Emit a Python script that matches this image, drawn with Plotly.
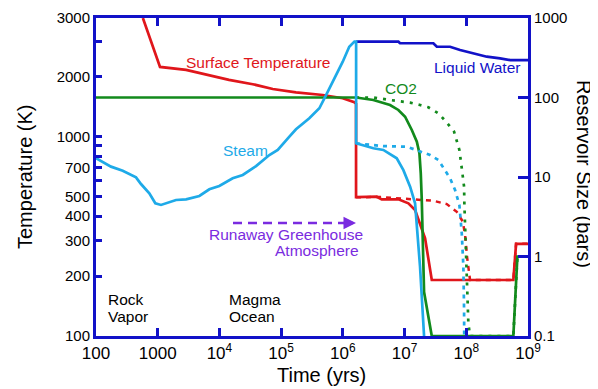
import plotly.graph_objects as go

# ---------------- data ----------------
# Surface temperature (K) vs time (yrs)
temp_t = [575, 1090, 2880, 6070, 14300, 34700, 73200, 174000, 472000, 995000,
          1.535e6, 1.636e6, 1.636e6, 3.54e6, 4.27e6, 7.94e6, 1.153e7, 1.48e7,
          1.90e7, 2.15e7, 2.76e7, 5.79e8, 6.41e8, 1e9]
temp_K = [3940, 2240, 2164, 2058, 1927, 1834, 1735, 1670, 1619, 1559,
          1489, 1462, 497, 500, 485, 485, 463, 429,
          347, 309, 191, 191, 290, 290]
# Surface temperature, alternative (dashed)
temp2_t = [1.636e6, 4.01e6, 2.93e7, 4.83e7, 7.02e7, 8.78e7, 9.57e7, 1.03e8,
           1.15e8, 5.79e8, 6.41e8, 1e9]
temp2_K = [497, 498, 477, 459, 420, 375, 321, 249, 191, 191, 290, 290]

# Steam reservoir (bars)
steam_t = [100, 175, 271, 445, 536, 731, 915, 1130, 1980, 2880, 4730, 6860,
           9950, 16400, 23900, 39200, 64400, 88100, 136000, 174000, 286000,
           416000, 534000, 776000, 996000, 1.27e6, 1.54e6, 1.64e6, 1.64e6,
           3.12e6, 4.53e6, 7.47e6, 9.57e6, 1.23e7, 1.48e7, 1.78e7, 2.07e7]
steam_P = [17.2, 13.5, 12.0, 9.9, 8.16, 6.24, 4.67, 4.45, 5.14, 5.24, 5.77,
           7.00, 7.71, 9.63, 10.6, 13.7, 18.9, 21.9, 32.2, 39.8, 54.7, 73.1,
           107, 192, 282, 435, 504, 504, 26.5, 23.0, 21.9, 17.2, 12.2, 7.55,
           4.67, 0.745, 0.1]
# Steam, alternative (dashed)
steam2_t = [1.64e6, 4.48e6, 1.09e7, 1.78e7, 2.59e7, 3.53e7, 4.53e7, 5.46e7,
            6.58e7, 7.17e7, 7.73e7, 8.45e7, 8.97e7, 9.21e7, 9.25e7]
steam2_P = [26.5, 24.5, 24.0, 20.8, 18.9, 16.4, 12.2, 9.63, 6.85, 5.40, 4.45,
            1.96, 0.745, 0.212, 0.1]

# CO2 reservoir (bars)
co2_t = [100, 1.64e6, 3.12e6, 4.53e6, 5.82e6, 7.93e6, 1.02e7, 1.31e7, 1.58e7,
         1.74e7, 1.83e7, 1.90e7, 1.97e7, 2.07e7, 2.76e7, 5.79e8, 6.73e8, 1e9]
co2_P = [100, 100, 93.0, 84.6, 80.5, 69.7, 57.3, 39.0, 27.8, 19.9, 11.1, 5.14,
         1.96, 0.357, 0.1, 0.1, 1.0, 1.0]
# CO2, alternative (dotted)
co22_t = [1.64e6, 3.12e6, 5.82e6, 1.23e7, 1.78e7, 2.43e7, 3.53e7, 4.71e7,
          6.34e7, 7.73e7, 8.45e7, 9.21e7, 9.31e7, 9.93e7, 1.08e8, 1.15e8,
          5.79e8, 6.73e8]
co22_P = [100, 100, 93.0, 86.1, 80.5, 75.3, 63.3, 49.6, 37.2, 21.9, 12.9,
          7.55, 4.57, 0.745, 0.145, 0.1, 0.1, 1.0]

# Liquid water reservoir (bars)
water_t = [1.64e6, 7.94e6, 8.45e6, 2.93e7, 3.33e7, 5.46e7, 7.93e7, 1.30e8,
           2.15e8, 3.53e8, 5.13e8, 1e9]
water_P = [504, 504, 481, 481, 435, 435, 396, 359, 326, 311, 296, 296]

# ticks
x_tickvals = [1e2, 1e3, 1e4, 1e5, 1e6, 1e7, 1e8, 1e9]
x_ticktext = ["100", "1000", "10<sup>4</sup>", "10<sup>5</sup>", "10<sup>6</sup>",
              "10<sup>7</sup>", "10<sup>8</sup>", "10<sup>9</sup>"]
yT_tickvals = [100, 200, 300, 400, 500, 600, 700, 800, 900, 1000, 2000, 3000, 3940]
yT_ticktext = ["100", "200", "300", "400", "500", "", "700", "", "", "1000",
               "2000", "", "3000"]
yP_tickvals = [0.1, 1, 10, 100, 1000]
yP_ticktext = ["0.1", "1", "10", "100", "1000"]

# ---------------- style ----------------
RED = "#e0161b"
BLUE = "#1212c8"
CYAN = "#1eaae8"
GREEN = "#128a1c"
PURPLE = "#7a2be0"
FONT = "Liberation Sans"
LW = 2.7

fig = go.Figure()
fig.add_trace(go.Scatter(x=temp2_t, y=temp2_K, mode="lines", yaxis="y",
                         line=dict(color=RED, width=2.5, dash="5px,5px")))
fig.add_trace(go.Scatter(x=temp_t, y=temp_K, mode="lines", yaxis="y",
                         line=dict(color=RED, width=LW)))
fig.add_trace(go.Scatter(x=co22_t, y=co22_P, mode="lines", yaxis="y2",
                         line=dict(color=GREEN, width=2.7, dash="3px,6px")))
fig.add_trace(go.Scatter(x=co2_t, y=co2_P, mode="lines", yaxis="y2",
                         line=dict(color=GREEN, width=LW)))
fig.add_trace(go.Scatter(x=water_t, y=water_P, mode="lines", yaxis="y2",
                         line=dict(color=BLUE, width=LW)))
fig.add_trace(go.Scatter(x=steam2_t, y=steam2_P, mode="lines", yaxis="y2",
                         line=dict(color=CYAN, width=2.7, dash="4px,5px")))
fig.add_trace(go.Scatter(x=steam_t, y=steam_P, mode="lines", yaxis="y2",
                         line=dict(color=CYAN, width=LW)))

axis_common = dict(showgrid=False, zeroline=False, showline=True,
                   linecolor=BLUE, linewidth=3, ticks="inside",
                   tickcolor=BLUE, tickwidth=2.5, automargin=False)

# the page body has an 8px margin; sizes/margins compensate for it
fig.update_layout(
    width=590, height=381,
    margin=dict(l=88, r=70, t=10, b=53, autoexpand=False),
    paper_bgcolor="white", plot_bgcolor="white",
    showlegend=False,
    font=dict(family=FONT, color="black", size=15),
    xaxis=dict(type="log", range=[2, 9], tickvals=x_tickvals, ticktext=x_ticktext,
               ticklen=8, mirror="ticks", tickfont=dict(size=17), **axis_common),
    yaxis=dict(type="log", range=[2, 3.5956], tickvals=yT_tickvals,
               ticktext=yT_ticktext, ticklen=6, mirror=True,
               tickfont=dict(size=15), **axis_common),
    yaxis2=dict(type="log", range=[-1, 3], overlaying="y", side="right",
                tickvals=yP_tickvals, ticktext=yP_ticktext, ticklen=10,
                tickfont=dict(size=15), **axis_common),
)

def px2paper(px, py):
    return (px - 96) / 432.0, (336 - py) / 318.0

def label(text, px, py, color, size=15.5, xanchor="center", angle=0):
    x, y = px2paper(px, py)
    fig.add_annotation(x=x, y=y, xref="paper", yref="paper", text=text,
                       showarrow=False, xanchor=xanchor, yanchor="middle",
                       textangle=angle,
                       font=dict(family=FONT, size=size, color=color))

label("Surface Temperature", 258, 63, RED)
label("Liquid Water", 477, 68, BLUE)
label("CO2", 401, 89, GREEN)
label("Steam", 245, 150, CYAN)
label("Runaway Greenhouse", 365, 234, PURPLE, xanchor="right")
label("Atmosphere", 361, 250, PURPLE, xanchor="right")
label("Rock", 106, 299, "black", xanchor="left")
label("Vapor", 106, 316, "black", xanchor="left")
label("Magma", 227, 299, "black", xanchor="left")
label("Ocean", 227, 316, "black", xanchor="left")

# axis titles
label("Temperature (K)", 25, 177, "black", size=20, angle=-90)
label("Reservoir Size (bars)", 584, 174, "black", size=20, angle=90)
label("Time (yrs)", 321, 375, "black", size=20)

# dashed arrow
x0, y0 = px2paper(233, 223)
x1, _ = px2paper(346, 223)
fig.add_shape(type="line", xref="paper", yref="paper", x0=x0, y0=y0, x1=x1, y1=y0,
              line=dict(color=PURPLE, width=2.5, dash="9px,6px"))
xh, _ = px2paper(356, 223)
fig.add_annotation(x=xh, y=y0, xref="paper", yref="paper", text="", showarrow=True,
                   ax=-14, ay=0, arrowhead=2, arrowsize=1, arrowwidth=2.5,
                   arrowcolor=PURPLE)

fig.write_html("out.html")
